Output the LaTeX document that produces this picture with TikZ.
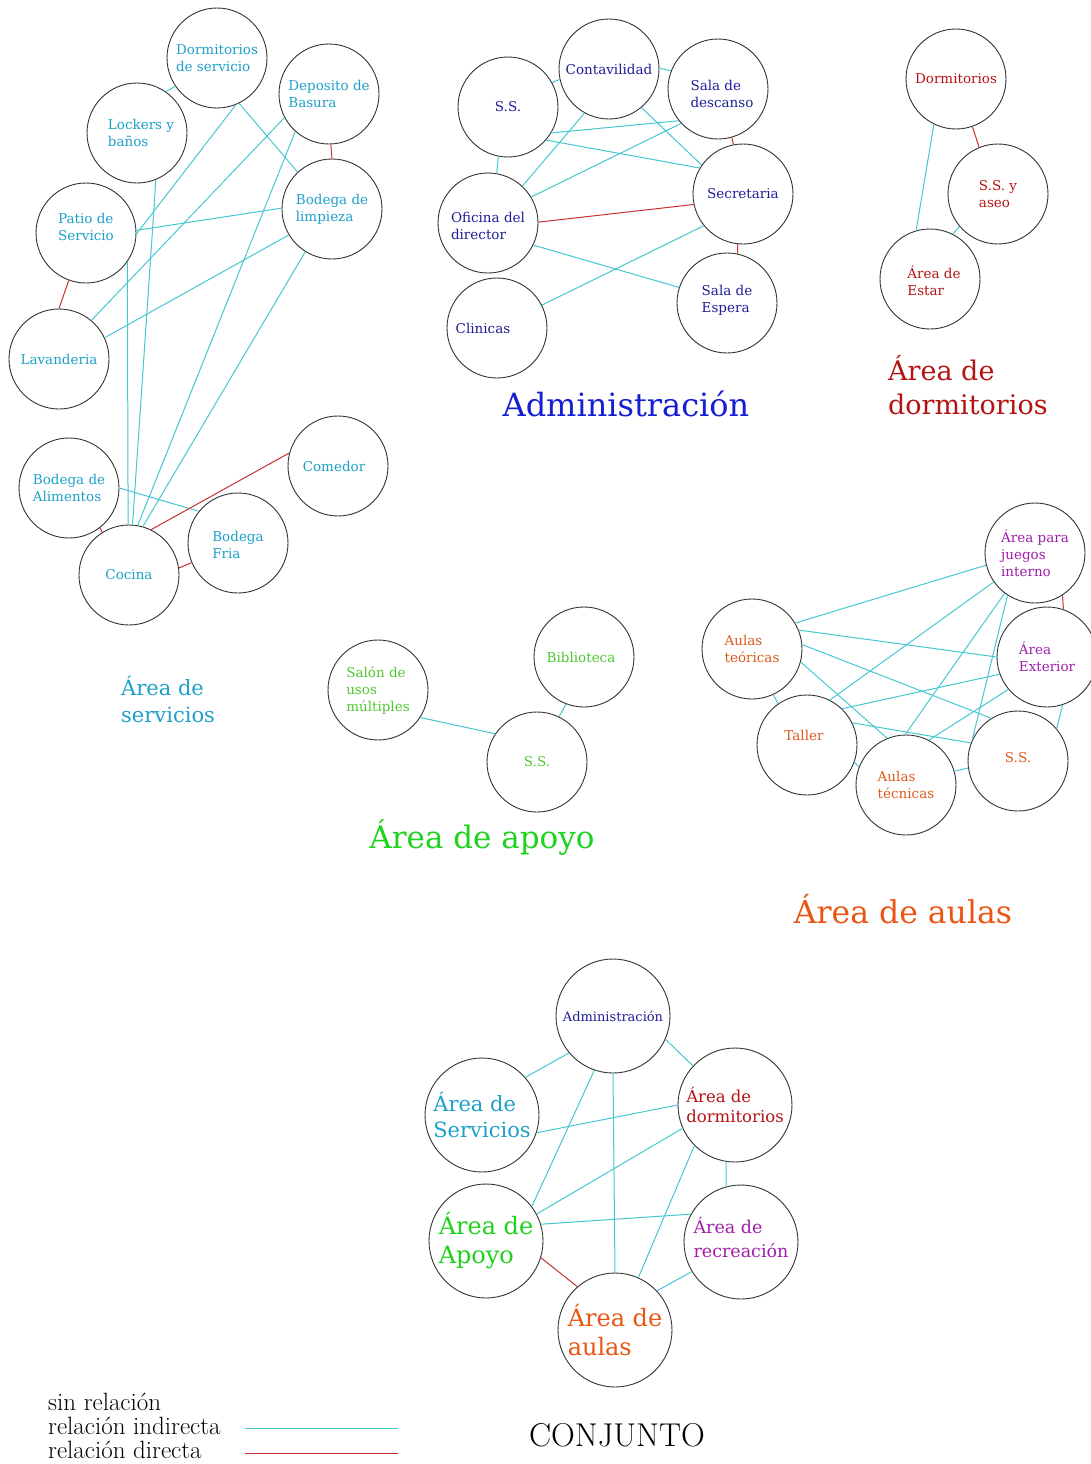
\documentclass[tikz,border=0pt]{standalone}
\usepackage{fontspec}
\newfontfamily\dv{DejaVu Serif}
\definecolor{servC}{RGB}{30,160,200}
\definecolor{admN}{RGB}{30,30,150}
\definecolor{admT}{RGB}{20,30,210}
\definecolor{dormC}{RGB}{180,20,20}
\definecolor{apoN}{RGB}{80,200,50}
\definecolor{apoT}{RGB}{30,210,30}
\definecolor{aulC}{RGB}{220,90,30}
\definecolor{aulT}{RGB}{235,85,20}
\definecolor{recC}{RGB}{160,30,170}
\definecolor{lineC}{RGB}{70,200,210}
\definecolor{lineR}{RGB}{200,50,50}
\begin{document}
\begin{tikzpicture}[x=1pt,y=-1pt,
  cir/.style={circle, draw=black!80, line width=0.9pt, minimum size=100pt, inner sep=0pt},
  bigcir/.style={cir, minimum size=114pt},
  lab/.style={font=\dv\fontsize{13.5}{17}\selectfont, align=left, inner sep=0pt},
  ind/.style={draw=lineC, line width=1pt},
  dir/.style={draw=lineR, line width=1pt},
  ttl/.style={inner sep=0pt, align=left},
]
\fill[white] (0,0) rectangle (1091,1464);
\useasboundingbox (0,0) rectangle (1091,1464);

% ---------- Area de servicios ----------
\begin{scope}[every label/.append style={text=servC}]
\node[cir, label={[lab]center:{Dormitorios\\de servicio}}] (dserv) at (217,58) {};
\node[cir, label={[lab]center:{Deposito de\\Basura}}] (dbas) at (329,94) {};
\node[cir, label={[lab,xshift=4]center:{Lockers y\\baños}}] (lock) at (137,133) {};
\node[cir, label={[lab]center:{Bodega de\\limpieza}}] (blimp) at (332,209) {};
\node[cir, label={[lab,yshift=6]center:{Patio de\\Servicio}}] (patio) at (86,233) {};
\node[cir, label={[lab]center:{Lavanderia}}] (lav) at (59,359) {};
\node[cir, label={[lab]center:{Bodega de\\Alimentos}}] (balim) at (69,488) {};
\node[cir, label={[lab]center:{Cocina}}] (coc) at (129,575) {};
\node[cir, label={[lab,yshift=-2]center:{Bodega\\Fria}}] (bfria) at (238,543) {};
\node[cir, label={[lab,xshift=-4]center:{Comedor}}] (com) at (338,466) {};
\end{scope}
\draw[ind] (lock.55) -- (dserv.-146);
\draw[ind] (dserv.-68) -- (patio.-1);
\draw[ind] (dserv.-64) -- (blimp.133);
\draw[ind] (dbas.-152) -- (lav.50);
\draw[ind] (dbas.-132) -- (coc.80);
\draw[ind] (blimp.179) -- (patio.3);
\draw[ind] (blimp.-149) -- (lav.25);
\draw[ind] (blimp.-122) -- (coc.74);
\draw[ind] (lock.-68) -- (coc.86);
\draw[ind] (patio.-35) -- (coc.91);
\draw[ind] (balim.0) -- (bfria.141);
\draw[dir] (dbas.-88) -- (blimp.90);
\draw[dir] (patio.-110) -- (lav.90);
\draw[dir] (balim.-52) -- (coc.122);
\draw[dir] (coc.8) -- (bfria.-157);
\draw[dir] (coc.64) -- (com.165);
\node[ttl, anchor=west, text=servC, font=\dv\fontsize{21}{27}\selectfont] (tserv) at (121,699) {Área de\\servicios};

% ---------- Administracion ----------
\begin{scope}[every label/.append style={text=admN}]
\node[cir, label={[lab]center:{S.S.}}] (ss) at (508,107) {};
\node[cir, label={[lab]center:{Contavilidad}}] (cont) at (609,69) {};
\node[cir, label={[lab,xshift=4,yshift=-5]center:{Sala de\\descanso}}] (sdes) at (718,89) {};
\node[cir, label={[lab]center:{Secretaria}}] (sec) at (743,194) {};
\node[cir, label={[lab,yshift=-3]center:{Oficina del\\director}}] (ofi) at (488,223) {};
\node[cir, label={[lab,yshift=3]center:{Sala de\\Espera}}] (sesp) at (727,303) {};
\node[cir, label={[lab,xshift=-14]center:{Clinicas}}] (cli) at (497,328) {};
\end{scope}
\draw[ind] (ss.29) -- (cont.-168);
\draw[ind] (cont.1) -- (sdes.159);
\draw[ind] (ss.-101) -- (ofi.80);
\draw[ind] (cont.-119) -- (ofi.47);
\draw[ind] (cont.-50) -- (sec.145);
\draw[ind] (ss.-31) -- (sdes.-141);
\draw[ind] (ss.-41) -- (sec.149);
\draw[ind] (ofi.31) -- (sdes.-137);
\draw[ind] (ofi.-26) -- (sesp.162);
\draw[ind] (cli.27) -- (sec.-141);
\draw[dir] (ofi.1) -- (sec.-168);
\draw[dir] (sdes.-74) -- (sec.101);
\draw[dir] (sec.-96) -- (sesp.78);
\node[ttl, text=admT, font=\dv\fontsize{32}{36}\selectfont] (tadm) at (626,404) {Administración};

% ---------- Area de dormitorios ----------
\begin{scope}[every label/.append style={text=dormC}]
\node[cir, label={[lab]center:{Dormitorios}}] (dorm) at (956,79) {};
\node[cir, label={[lab]center:{S.S. y\\aseo}}] (ssa) at (998,194) {};
\node[cir, label={[lab,xshift=4,yshift=-2]center:{Área de\\Estar}}] (est) at (930,279) {};
\end{scope}
\draw[dir] (dorm.-71) -- (ssa.112);
\draw[ind] (dorm.-116) -- (est.106);
\draw[ind] (ssa.-140) -- (est.63);
\node[ttl, anchor=west, text=dormC, font=\dv\fontsize{27}{34}\selectfont] (tdorm) at (888,385) {Área de\\dormitorios};

% ---------- Area de apoyo ----------
\begin{scope}[every label/.append style={text=apoN}]
\node[cir, label={[lab]center:{Salón de\\usos\\múltiples}}] (salon) at (378,690) {};
\node[cir, label={[lab,xshift=-3]center:{Biblioteca}}] (bib) at (584,657) {};
\node[cir, label={[lab]center:{S.S.}}] (ssap) at (537,762) {};
\end{scope}
\draw[ind] (salon.-33) -- (ssap.146);
\draw[ind] (bib.-111) -- (ssap.64);
\node[ttl, text=apoT, font=\dv\fontsize{31}{36}\selectfont] (tapo) at (482,838) {Área de apoyo};

% ---------- Area de aulas ----------
\begin{scope}[every label/.append style={text=aulC}]
\node[cir, label={[lab,text=recC]center:{Área para\\juegos\\interno}}] (jue) at (1035,553) {};
\node[cir, label={[lab,text=recC]center:{Área\\Exterior}}] (ext) at (1047,657) {};
\node[cir, label={[lab]center:{Aulas\\teóricas}}] (teo) at (752,649) {};
\node[cir, label={[lab,xshift=-3,yshift=10]center:{Taller}}] (tal) at (807,745) {};
\node[cir, label={[lab]center:{Aulas\\técnicas}}] (tec) at (906,785) {};
\node[cir, label={[lab,yshift=3]center:{S.S.}}] (ssau) at (1018,761) {};
\end{scope}
\draw[ind] (teo.31) -- (jue.-166);
\draw[ind] (teo.22) -- (ext.180);
\draw[ind] (teo.5) -- (ssau.122);
\draw[ind] (teo.-15) -- (tec.112);
\draw[ind] (teo.-65) -- (tal.125);
\draw[ind] (tal.63) -- (jue.-145);
\draw[ind] (tal.46) -- (ext.-160);
\draw[ind] (tal.26) -- (ssau.159);
\draw[ind] (tal.-20) -- (tec.159);
\draw[ind] (tec.91) -- (jue.-127);
\draw[ind] (tec.63) -- (ext.-140);
\draw[ind] (tec.16) -- (ssau.-172);
\draw[ind] (ssau.155) -- (jue.-123);
\draw[ind] (ssau.40) -- (ext.-72);
\draw[dir] (jue.-57) -- (ext.71);
\node[ttl, text=aulT, font=\dv\fontsize{31.5}{36}\selectfont] (taul) at (903,909) {Área de aulas};

% ---------- Conjunto ----------
\node[bigcir, label={[lab,text=admN,font=\dv\fontsize{13}{16}\selectfont]center:{Administración}}] (cadm) at (613,1016) {};
\node[bigcir, label={[lab,text=servC,font=\dv\fontsize{21}{26}\selectfont]center:{Área de\\Servicios}}] (cser) at (482,1115) {};
\node[bigcir, label={[lab,text=dormC,font=\dv\fontsize{16.5}{20}\selectfont]center:{Área de\\dormitorios}}] (cdor) at (735,1105) {};
\node[bigcir, label={[lab,text=apoT,font=\dv\fontsize{24}{29}\selectfont]center:{Área de\\Apoyo}}] (capo) at (486,1241) {};
\node[bigcir, label={[lab,text=recC,font=\dv\fontsize{17.5}{24}\selectfont,yshift=5]center:{Área de\\recreación}}] (crec) at (741,1242) {};
\node[bigcir, label={[lab,text=aulT,font=\dv\fontsize{24}{29}\selectfont]center:{Área de\\aulas}}] (caul) at (615,1330) {};
\draw[ind] (cadm.-140) -- (cser.41);
\draw[ind] (cadm.-24) -- (cdor.137);
\draw[ind] (cadm.-109) -- (capo.37);
\draw[ind] (cadm.-90) -- (caul.90);
\draw[ind] (cser.-18) -- (cdor.180);
\draw[ind] (cdor.-156) -- (capo.28);
\draw[ind] (cdor.-135) -- (caul.66);
\draw[ind] (cdor.-99) -- (crec.105);
\draw[ind] (capo.17) -- (crec.151);
\draw[dir] (capo.-17) -- (caul.131);
\draw[ind] (crec.-149) -- (caul.43);
\node[ttl, font=\fontsize{33}{38}\selectfont] (tconj) at (617,1435) {CONJUNTO};

% ---------- Leyenda ----------
\node[ttl, anchor=west, font=\fontsize{25}{28}\selectfont] (lsin) at (48,1402) {sin relación};
\node[ttl, anchor=west, font=\fontsize{25}{28}\selectfont] (lind) at (48,1426) {relación indirecta};
\node[ttl, anchor=west, font=\fontsize{25}{28}\selectfont] (ldir) at (48,1450) {relación directa};
\coordinate (ia) at (245,1428); \coordinate (ib) at (398,1428);
\coordinate (da) at (245,1453); \coordinate (db) at (398,1453);
\draw[ind] (ia) -- (ib);
\draw[dir] (da) -- (db);
\end{tikzpicture}
\end{document}
